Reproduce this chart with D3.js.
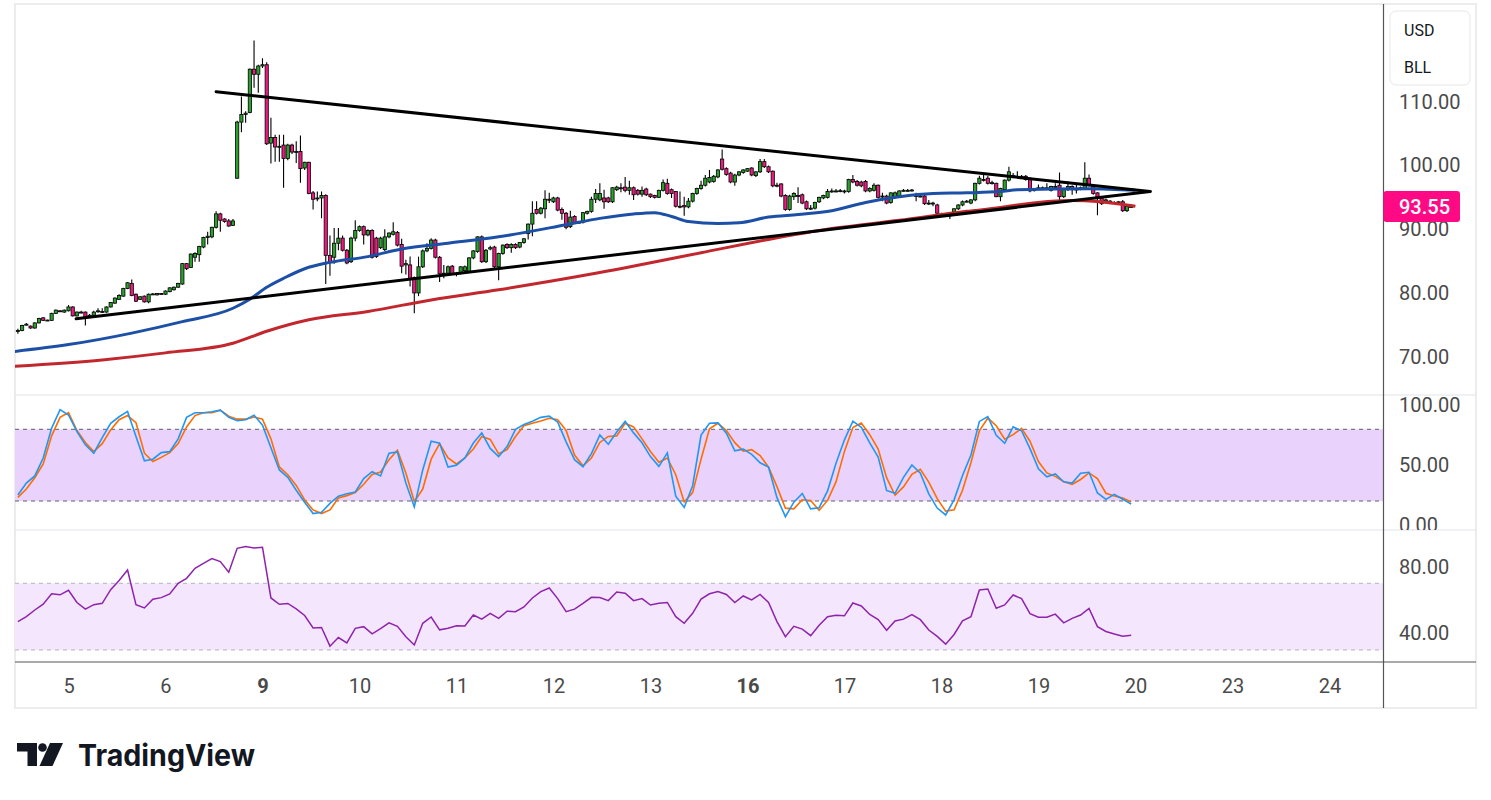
<!DOCTYPE html>
<html>
<head>
<meta charset="utf-8">
<script src="https://cdn.jsdelivr.net/npm/d3@7"></script>
<style>
  body { margin: 0; background: #fff; }
  svg { display: block; font-family: Roboto, "Liberation Sans", Arial, sans-serif; }
</style>
</head>
<body>
<div id="container"></div>
<script>
// hourly bars, [open, high, low, close]
var bars = [
  [74.0,74.4,73.6,74.1],[74.1,75.0,74.0,74.9],[75.0,75.3,74.9,75.1],[74.8,74.9,74.4,74.5],[74.5,75.4,74.4,75.3],
  [75.3,76.1,75.2,76.0],[76.1,76.2,75.6,75.7],[75.7,75.8,75.6,75.75],[75.7,76.9,75.6,76.8],[76.8,77.4,76.7,77.3],
  [77.2,77.3,77.0,77.1],[77.0,77.4,76.9,77.3],[77.2,78.1,77.1,77.8],[77.8,77.9,76.3,76.4],[76.4,77.1,76.3,77.0],
  [77.0,77.2,76.8,76.9],[77.0,77.1,74.9,76.2],[76.4,76.7,76.2,76.5],[76.5,77.2,76.4,77.0],[77.1,77.6,76.9,77.2],
  [77.1,77.6,76.9,77.0],[77.0,77.9,76.9,77.8],[77.8,78.6,77.7,78.5],[78.4,79.3,78.3,79.2],[79.0,79.8,78.9,79.6],
  [79.5,80.8,79.4,80.7],[80.7,81.7,80.6,81.6],[81.5,82.1,79.5,79.6],[79.8,79.9,78.6,78.7],[79.0,79.5,78.9,79.4],
  [79.5,79.6,78.5,78.6],[78.6,79.9,78.4,79.8],[79.8,80.0,79.7,79.85],[79.7,80.0,79.6,79.9],[79.9,80.0,79.7,79.8],
  [79.8,80.4,79.7,80.3],[80.2,80.9,80.1,80.8],[80.5,81.0,80.4,80.9],[80.9,81.6,80.8,81.5],[81.4,84.7,81.3,84.6],
  [84.6,84.7,83.6,83.8],[84.0,86.2,83.9,86.1],[85.6,86.4,84.9,86.2],[86.0,87.4,84.9,87.3],[87.2,88.8,87.0,88.7],
  [88.7,89.6,87.6,88.9],[88.8,90.4,88.6,90.3],[90.3,92.8,90.1,92.4],[92.4,92.6,89.6,91.4],[91.6,91.7,91.0,91.2],
  [91.3,91.6,90.4,90.5],[90.6,91.6,90.5,91.3],[98.0,107.0,97.9,106.8],[106.8,110.8,105.2,108.0],[108.0,108.5,106.7,108.2],
  [108.3,115.2,108.2,115.1],[115.1,119.6,112.2,114.3],[114.3,115.8,111.4,115.6],[115.6,116.8,115.3,115.8],[115.8,116.2,103.2,103.4],
  [103.5,107.5,100.3,104.4],[104.4,104.8,100.6,102.9],[102.9,104.8,100.6,103.0],[103.2,104.8,96.5,101.1],[101.1,103.4,100.8,103.2],
  [103.2,103.4,101.8,102.1],[102.1,103.8,100.4,102.2],[102.2,104.7,97.3,99.5],[99.6,100.6,99.3,100.5],[100.5,100.6,95.5,95.6],
  [95.7,96.0,93.1,94.7],[94.8,95.9,94.4,94.9],[94.9,95.9,91.7,95.3],[95.3,95.5,81.4,85.9],[85.9,89.0,82.7,84.9],
  [85.6,90.2,84.6,87.8],[87.8,90.2,86.7,88.6],[88.6,89.0,86.5,86.7],[86.7,86.9,84.5,84.7],[84.9,88.8,84.7,88.6],
  [88.6,91.4,88.1,89.8],[89.8,90.6,89.6,90.4],[90.4,90.6,87.6,89.1],[89.1,90.0,88.9,89.8],[89.8,90.0,85.4,85.6],
  [88.6,88.8,85.5,85.7],[87.1,88.8,86.9,88.6],[86.8,90.0,86.6,88.8],[88.8,89.5,88.6,89.4],[89.2,91.1,89.0,89.6],
  [89.5,89.7,87.3,87.5],[87.6,88.5,83.1,84.2],[84.4,85.2,82.9,84.6],[84.4,85.7,81.0,82.3],[82.4,82.6,76.8,80.0],
  [80.0,85.7,79.5,84.1],[84.1,86.8,83.9,86.6],[86.6,87.8,86.4,87.0],[87.0,88.6,86.8,88.3],[88.3,88.5,85.4,85.6],
  [85.6,85.8,81.7,83.0],[83.0,84.4,82.3,83.1],[83.1,84.3,82.9,84.1],[84.2,84.4,82.8,83.0],[83.0,83.3,82.6,83.1],
  [83.1,84.2,82.9,84.1],[83.5,84.3,83.3,84.1],[83.4,85.6,83.2,85.5],[85.5,86.7,85.3,86.6],[86.5,88.9,86.3,88.8],
  [88.8,89.0,84.7,84.9],[84.9,86.9,84.7,86.7],[86.9,87.4,86.7,87.1],[87.2,87.4,83.9,84.1],[84.1,86.3,82.0,86.2],
  [86.2,87.6,86.0,87.5],[87.6,87.8,86.9,87.1],[87.1,87.8,86.3,87.6],[87.6,87.8,86.9,87.1],[87.2,88.0,87.0,87.9],
  [87.9,88.6,87.7,88.5],[89.3,90.9,88.4,90.8],[90.8,94.4,88.9,92.5],[93.1,94.4,92.3,92.5],[92.5,93.5,92.3,93.3],
  [93.2,96.1,91.7,94.7],[94.7,95.7,94.1,94.6],[94.3,95.1,94.1,94.9],[94.9,95.1,92.8,93.0],[93.1,93.4,91.5,92.5],
  [92.5,92.7,90.0,90.3],[90.4,92.9,90.2,91.9],[92.0,92.2,90.8,91.0],[91.0,91.3,90.9,91.1],[91.1,92.7,90.9,92.6],
  [92.5,92.9,92.3,92.8],[92.8,95.1,92.6,94.7],[94.7,96.3,94.1,95.6],[94.6,97.2,94.4,95.6],[94.9,96.2,93.2,94.3],
  [94.9,95.1,94.1,94.3],[94.3,96.6,94.1,96.5],[96.2,96.8,96.0,96.6],[96.5,97.2,95.8,96.4],[96.6,98.2,95.8,96.1],
  [96.1,97.6,95.4,96.5],[96.5,96.7,94.6,95.4],[96.1,96.3,95.3,95.5],[95.5,96.7,95.1,96.1],[96.3,96.5,95.2,95.4],
  [95.5,95.6,94.9,95.1],[95.3,95.4,94.8,95.0],[95.0,96.2,94.9,96.1],[96.1,97.8,95.9,97.3],[97.2,97.9,95.4,95.6],
  [96.2,96.4,94.9,95.6],[95.9,96.0,93.4,93.6],[93.6,95.9,93.3,93.5],[93.7,95.1,92.1,93.5],[93.5,94.9,93.3,94.4],
  [94.4,95.7,94.2,95.6],[95.6,96.5,95.4,96.4],[96.4,97.6,96.2,96.9],[96.9,98.5,96.7,98.0],[97.4,99.3,97.2,98.1],
  [97.5,98.5,97.3,98.3],[98.2,99.4,98.0,99.3],[101.0,102.5,99.2,99.4],[99.5,99.7,98.4,98.6],[98.8,99.0,97.2,97.4],
  [97.4,98.7,96.8,98.5],[98.5,99.1,98.3,99.0],[98.9,99.4,98.7,99.3],[99.1,99.6,99.0,99.5],[99.6,99.7,98.3,98.5],
  [98.4,99.1,98.2,99.0],[99.0,101.0,98.8,100.6],[100.6,101.0,99.6,99.8],[99.8,100.0,98.8,99.0],[99.1,99.2,96.6,96.8],
  [96.8,97.3,96.6,96.9],[97.1,97.2,95.0,95.2],[95.3,95.5,92.9,93.1],[93.1,95.4,92.9,95.2],[95.1,95.8,94.6,95.6],
  [95.3,96.6,94.1,95.2],[95.4,95.6,93.9,94.1],[94.3,94.5,93.0,93.2],[93.2,93.8,93.0,93.3],[93.3,94.3,93.1,94.2],
  [94.3,95.1,94.1,95.0],[94.9,95.4,94.7,95.3],[95.0,96.3,94.8,95.9],[95.9,96.4,95.7,96.0],[96.0,96.3,95.8,96.0],
  [96.0,96.3,95.8,96.05],[96.0,96.2,95.6,96.0],[95.9,97.9,95.7,97.8],[97.8,98.5,97.2,97.4],[97.5,97.7,96.7,96.9],
  [97.4,97.6,96.6,96.8],[97.5,97.7,95.8,96.0],[96.0,96.6,95.8,96.4],[96.1,97.2,95.9,96.9],[96.9,97.0,94.8,95.0],
  [95.1,95.7,94.4,95.2],[95.2,95.4,93.9,94.1],[94.2,95.8,94.0,95.7],[95.0,95.9,94.8,95.7],[95.2,96.1,95.0,96.0],
  [96.0,96.3,95.9,96.1],[96.1,96.3,95.9,96.1],[96.1,96.3,95.9,96.15],[95.3,95.7,94.4,95.2],[95.2,95.4,95.0,95.2],
  [95.2,95.4,93.8,94.0],[94.0,94.6,93.8,94.1],[94.1,94.3,93.6,94.1],[93.8,94.0,92.3,92.5],[92.4,92.6,92.2,92.3],
  [92.3,92.5,92.1,92.3],[92.1,92.7,91.6,92.6],[92.7,93.3,92.5,93.2],[93.2,93.9,93.0,93.8],[93.8,94.5,93.6,94.3],
  [94.3,94.6,94.2,94.4],[94.1,94.7,93.9,94.6],[94.6,97.3,94.4,97.2],[97.2,98.4,97.0,98.0],[97.8,98.5,97.5,97.7],
  [98.0,98.4,97.0,97.2],[97.2,97.6,97.0,97.3],[97.2,97.3,95.0,95.1],[95.1,96.5,94.4,96.4],[96.2,97.8,96.0,97.7],
  [97.7,99.8,97.5,99.0],[98.4,98.8,98.0,98.3],[98.3,99.1,98.1,98.3],[98.3,98.5,98.0,98.2],[98.3,98.5,97.6,97.8],
  [98.0,98.1,95.8,96.0],[96.1,96.4,95.9,96.2],[96.4,97.0,96.2,96.5],[96.5,96.7,96.2,96.5],[96.5,97.2,96.3,96.5],
  [96.1,96.8,95.9,96.7],[96.7,97.2,96.5,96.6],[96.9,98.9,94.6,95.1],[95.1,96.3,94.9,96.2],[96.2,97.5,96.0,96.7],
  [96.7,96.9,95.4,96.2],[96.2,97.0,95.6,96.3],[96.3,96.7,96.1,96.5],[96.4,100.5,96.2,98.0],[98.0,98.6,96.7,96.9],
  [96.9,97.0,95.4,95.6],[95.7,95.8,92.2,94.8],[94.8,94.9,93.8,94.0],[94.4,94.8,94.2,94.6],[94.4,94.6,94.0,94.2],
  [94.2,94.4,94.0,94.15],[94.2,94.4,94.0,94.3],[94.3,94.6,92.7,92.9],[92.9,93.8,92.7,93.6],[93.5,93.9,93.4,93.55]
];

// moving averages, [bar, value]
var maBlue = [[-1,70.8],[12,71.9],[27,73.7],[39,75.5],[51,77.6],[55,79.0],[59,80.9],[63,82.3],[68,83.8],[74,84.8],
  [83,85.7],[91,86.9],[102,87.8],[114,88.8],[130,90.7],[138,91.7],[146,92.4],[151,92.6],[155,92.0],[159,91.2],
  [166,90.9],[171,91.0],[178,91.9],[185,92.3],[193,92.9],[201,94.2],[209,95.1],[217,95.6],[225,95.7],[233,95.9],
  [237,96.2],[254,96.35],[265,96.1]];
var maRed = [[-1,68.5],[20,69.5],[35,70.6],[51,72.1],[59,74.0],[69,75.8],[83,77.1],[98,78.9],[114,80.5],[138,83.2],
  [162,86.3],[178,88.4],[193,90.1],[209,91.4],[225,92.8],[233,93.4],[237,93.8],[250,94.5],[256,94.35],[265,93.6]];

// triangle drawing, [bar, price]
var trendUpper = [[47, 111.56], [268.5, 95.92]];
var trendLower = [[13.8, 75.95], [268.5, 95.92]];

// oscillators sampled every OSC_STEP bars
var OSC_STEP = 2;
var stochK = [25,35,41,56,81,96.5,92,78,67,60,73,85,90.5,95,74,53.7,55,60.5,61.3,72,
  90,93.8,93.9,94.7,96,90,87.2,88,91.8,83.5,64.5,46,39.8,29,19,9.5,10.5,18,24,26,
  27.5,38.8,44.5,41,60,61,35,15,46,70,68.3,48.4,50,56,68.5,77,64,57.2,65.5,80,
  84,86.8,90,91,86,69.5,54.6,48.7,59.7,75.3,67.5,77.8,86.6,77,68.7,57.2,49,60.3,24,14.6,
  32.8,75.2,85,85.4,76.7,62,63.4,59,52,48.4,22.8,6.9,19,26.3,13.4,14.4,28.5,51.6,71.2,86.8,
  81.6,68.6,56.8,28.8,26.4,39.8,50.1,43.3,26,14.1,8.3,21,41.3,58.5,86.6,90.6,75,68.3,82,78.8,
  63.8,47,40.3,42.6,36.1,35,43.3,44,26.7,21.4,25.5,21.5,17.4];
var stochD = [23,30,39.5,51,74.5,90,94,79,69,61.3,68,79.5,88,91.5,85.5,60,53,56.5,60.5,68,
  82,91.5,93.9,93.9,96,91,88.5,88.5,90.3,88.5,72,48.5,42,33,21,12.5,9.5,12.5,22.5,24.5,
  27,34,42.2,44.3,54.5,62.5,43.5,19.5,30,55,68,56,51,56,63.5,74,71.5,59.5,63,74,
  83,85,86.9,89.2,88,79,58.5,49.5,56,69,74,74.5,85,82,72,61.5,52.5,56,42,19.2,
  27,55,80.5,85,79,68.8,61.7,63,58,48.3,32,14,13.4,21,20.5,12.3,20.5,36,61.5,81.5,
  85.2,75.5,63.5,39.5,24.8,31.8,42.3,46.5,35.8,22,11.5,12.7,29,52,78.8,89.4,83,71.7,75.5,80.8,
  70,53,43.5,40.6,36,34,38,43.5,38.8,26.5,24.2,22.5,19.2];
var rsi = [47,50,54,57.5,63.7,63.1,65.8,58.5,54.5,57.2,58,66.2,71.7,78,57.2,55.2,60.4,61.4,63.6,70,
  73,79,82,84.8,83,76.7,91,92,91.2,91.6,61.2,57.4,57.9,54.7,50.7,43.2,43.5,32.3,37.5,34.3,
  43,44,39.7,42.8,46.3,44.2,38,33,46,49.8,42.1,43,44.5,44.4,51,48.5,52,49,53.3,53,
  55.8,61.2,65,67.2,60.8,53,54.5,57.9,61.6,61.5,59.6,64.8,64.1,59.6,60.8,57,58,58.5,50,46,
  52,60.5,63.7,65,63.3,58.5,62.4,60,63.3,58.5,47,38,44.2,42.5,38.6,44.8,50,50.8,50.5,58.2,
  56.4,51.3,48.2,41.8,47.4,48.5,51.2,48.2,42,38.2,33.5,39.3,47.5,50,66,66.6,55,57,63,60.8,
  51.8,49.7,49.7,51.5,46.3,49,51,55,44,41.1,39.6,38.3,38.8];

// time axis
var dayLabels = ["5","6","9","10","11","12","13","16","17","18","19","20","23","24"];
var boldDays = ["9","16"];
var FIRST_DAY_BAR = 12, BARS_PER_DAY = 23;

var priceTicks = [70, 80, 90, 100, 110];
var stochTicks = [0, 50, 100];
var rsiTicks = [40, 80];
var stochBand = [20, 80];
var rsiBand = [30, 70];
var lastPrice = 93.55;
var currency = "USD", ticker = "BLL";

var width = 1491,
    height = 800;

var frameLeft = 15, plotRight = 1383.5, frameRight = 1476, frameTop = 4, frameBottom = 708;
var mainBottom = 395, stochBottom = 530, rsiBottom = 662;
var green = "#2aa12d", pink = "#ee1a80", labelPink = "#ff0a84";

var svg = d3.select("#container").append("svg")
    .attr("width", width)
    .attr("height", height);

var x = d3.scaleLinear().domain([0, 264]).range([17.9, 1131.2]);
var yPrice = d3.scaleLinear().domain([70, 110]).range([356.7, 101.7]);
var yStoch = d3.scaleLinear().domain([0, 100]).range([524.9, 405.4]);
var yRsi = d3.scaleLinear().domain([30, 70]).range([650, 583.3]);

var defs = svg.append("defs");
function addClip(id, x0, y0, x1, y1) {
    defs.append("clipPath").attr("id", id).append("rect")
        .attr("x", x0).attr("y", y0).attr("width", x1 - x0).attr("height", y1 - y0);
}
addClip("clipMain", frameLeft, frameTop, plotRight, mainBottom);
addClip("clipStoch", frameLeft, mainBottom, plotRight, stochBottom);
addClip("clipRsi", frameLeft, stochBottom, plotRight, rsiBottom);
addClip("clipStochAxis", plotRight, mainBottom, frameRight, stochBottom);

// frame
svg.append("rect")
    .attr("x", frameLeft).attr("y", frameTop)
    .attr("width", frameRight - frameLeft).attr("height", frameBottom - frameTop)
    .attr("fill", "#fff").attr("stroke", "#ececec").attr("stroke-width", 2);

// oscillator bands
var stochPane = svg.append("g").attr("clip-path", "url(#clipStoch)");
stochPane.append("rect")
    .attr("x", frameLeft).attr("width", plotRight - frameLeft)
    .attr("y", yStoch(stochBand[1])).attr("height", yStoch(stochBand[0]) - yStoch(stochBand[1]))
    .attr("fill", "#e9d2fb");
stochBand.forEach(function (v) {
    stochPane.append("line")
        .attr("x1", frameLeft).attr("x2", plotRight)
        .attr("y1", yStoch(v)).attr("y2", yStoch(v))
        .attr("stroke", "#5d606b").attr("stroke-dasharray", "4,4");
});

var rsiPane = svg.append("g").attr("clip-path", "url(#clipRsi)");
rsiPane.append("rect")
    .attr("x", frameLeft).attr("width", plotRight - frameLeft)
    .attr("y", yRsi(rsiBand[1])).attr("height", yRsi(rsiBand[0]) - yRsi(rsiBand[1]))
    .attr("fill", "#f3e6fd");
rsiBand.forEach(function (v) {
    rsiPane.append("line")
        .attr("x1", frameLeft).attr("x2", plotRight)
        .attr("y1", yRsi(v)).attr("y2", yRsi(v))
        .attr("stroke", "#b4b4bd").attr("stroke-dasharray", "4,4");
});

// candles
var main = svg.append("g").attr("clip-path", "url(#clipMain)");
var candle = main.selectAll("g.candle").data(bars).enter().append("g").attr("class", "candle");
candle.append("line")
    .attr("x1", function (d, i) { return x(i); })
    .attr("x2", function (d, i) { return x(i); })
    .attr("y1", function (d) { return yPrice(d[1]); })
    .attr("y2", function (d) { return yPrice(d[2]); })
    .attr("stroke", "#000").attr("stroke-width", 1.1);
candle.append("rect")
    .attr("x", function (d, i) { return x(i) - 1.6; })
    .attr("width", 3.2)
    .attr("y", function (d) { return yPrice(Math.max(d[0], d[3])); })
    .attr("height", function (d) { return Math.max(1, Math.abs(yPrice(d[0]) - yPrice(d[3]))); })
    .attr("fill", function (d) { return d[3] >= d[0] ? green : pink; })
    .attr("stroke", "#000").attr("stroke-width", 0.8);

// moving averages
var maLine = d3.line()
    .x(function (d) { return x(d[0]); })
    .y(function (d) { return yPrice(d[1]); })
    .curve(d3.curveMonotoneX);
main.append("path").datum(maRed).attr("d", maLine)
    .attr("fill", "none").attr("stroke", "#c1272d").attr("stroke-width", 3);
main.append("path").datum(maBlue).attr("d", maLine)
    .attr("fill", "none").attr("stroke", "#1c4fa6").attr("stroke-width", 3);

// triangle
var straight = d3.line()
    .x(function (d) { return x(d[0]); })
    .y(function (d) { return yPrice(d[1]); });
[trendUpper, trendLower].forEach(function (t) {
    main.append("path").datum(t).attr("d", straight)
        .attr("fill", "none").attr("stroke", "#000")
        .attr("stroke-width", 3).attr("stroke-linecap", "round");
});

// stochastic and rsi lines
var stochLine = d3.line()
    .x(function (d, i) { return x(i * OSC_STEP); })
    .y(function (d) { return yStoch(d); });
stochPane.append("path").datum(stochD).attr("d", stochLine)
    .attr("fill", "none").attr("stroke", "#ff6d00").attr("stroke-width", 1.6);
stochPane.append("path").datum(stochK).attr("d", stochLine)
    .attr("fill", "none").attr("stroke", "#2196f3").attr("stroke-width", 1.6);

var rsiLine = d3.line()
    .x(function (d, i) { return x(i * OSC_STEP); })
    .y(function (d) { return yRsi(d); });
rsiPane.append("path").datum(rsi).attr("d", rsiLine)
    .attr("fill", "none").attr("stroke", "#8e24aa").attr("stroke-width", 1.5);

// separators
[mainBottom, stochBottom].forEach(function (yy) {
    svg.append("line")
        .attr("x1", frameLeft).attr("x2", frameRight)
        .attr("y1", yy).attr("y2", yy)
        .attr("stroke", "#e0e3eb").attr("stroke-width", 1.2);
});
svg.append("line")
    .attr("x1", frameLeft).attr("x2", frameRight)
    .attr("y1", rsiBottom).attr("y2", rsiBottom)
    .attr("stroke", "#555").attr("stroke-width", 1.2);
svg.append("line")
    .attr("x1", plotRight).attr("x2", plotRight)
    .attr("y1", frameTop).attr("y2", frameBottom)
    .attr("stroke", "#555").attr("stroke-width", 1.2);

// right axes
function styleAxis(g) {
    g.select(".domain").remove();
    g.selectAll(".tick line").remove();
    g.selectAll("text")
        .attr("font-family", "Roboto, 'Liberation Sans', Arial, sans-serif")
        .attr("font-size", 20).attr("fill", "#4a4a4a");
}
svg.append("g")
    .attr("transform", "translate(1399,0)")
    .call(d3.axisRight(yPrice).tickValues(priceTicks).tickSize(0).tickPadding(0).tickFormat(d3.format(".2f")))
    .call(styleAxis);
svg.append("g")
    .attr("clip-path", "url(#clipStochAxis)")
    .append("g")
    .attr("transform", "translate(1399,0)")
    .call(d3.axisRight(yStoch).tickValues(stochTicks).tickSize(0).tickPadding(0).tickFormat(d3.format(".2f")))
    .call(styleAxis);
svg.append("g")
    .attr("transform", "translate(1399,0)")
    .call(d3.axisRight(yRsi).tickValues(rsiTicks).tickSize(0).tickPadding(0).tickFormat(d3.format(".2f")))
    .call(styleAxis);

// last price label
var yLast = yPrice(lastPrice);
svg.append("rect")
    .attr("x", plotRight).attr("y", yLast - 15.5)
    .attr("width", 76.5).attr("height", 31).attr("rx", 3)
    .attr("fill", labelPink);
svg.append("text")
    .attr("x", 1399).attr("y", yLast).attr("dy", "0.35em")
    .attr("font-size", 20).attr("font-weight", 500).attr("fill", "#fff")
    .text(d3.format(".2f")(lastPrice));

// currency box
svg.append("rect")
    .attr("x", 1390).attr("y", 11).attr("width", 80).attr("height", 74).attr("rx", 6)
    .attr("fill", "#fff").attr("stroke", "#e6e7eb");
svg.append("text").attr("x", 1404).attr("y", 30).attr("dy", "0.35em")
    .attr("font-size", 16).attr("fill", "#131722").text(currency);
svg.append("text").attr("x", 1404).attr("y", 67).attr("dy", "0.35em")
    .attr("font-size", 16).attr("fill", "#131722").text(ticker);

// time axis
var dayBars = dayLabels.map(function (d, i) { return FIRST_DAY_BAR + i * BARS_PER_DAY; });
var timeAxis = svg.append("g")
    .attr("transform", "translate(0,679)")
    .call(d3.axisBottom(x).tickValues(dayBars).tickSize(0).tickPadding(0)
        .tickFormat(function (d, i) { return dayLabels[i]; }));
timeAxis.select(".domain").remove();
timeAxis.selectAll("text")
    .attr("font-family", "Roboto, 'Liberation Sans', Arial, sans-serif")
    .attr("font-size", 20).attr("fill", "#4a4a4a")
    .attr("font-weight", function (d, i) { return boldDays.indexOf(dayLabels[i]) >= 0 ? 700 : 400; });

// logo
var logo = svg.append("g").attr("fill", "#131722");
logo.append("path").attr("d", "M17,743H37V766H27.5V751.5H17Z");
logo.append("circle").attr("cx", 42.5).attr("cy", 747.5).attr("r", 4.3);
logo.append("path").attr("d", "M50,743H63L52.5,766H39.5Z");
logo.append("text")
    .attr("x", 78).attr("y", 766)
    .attr("font-family", "Inter, Roboto, sans-serif")
    .attr("font-size", 30).attr("font-weight", 700)
    .attr("textLength", 177).attr("lengthAdjust", "spacingAndGlyphs")
    .text("TradingView");
</script>
</body>
</html>
